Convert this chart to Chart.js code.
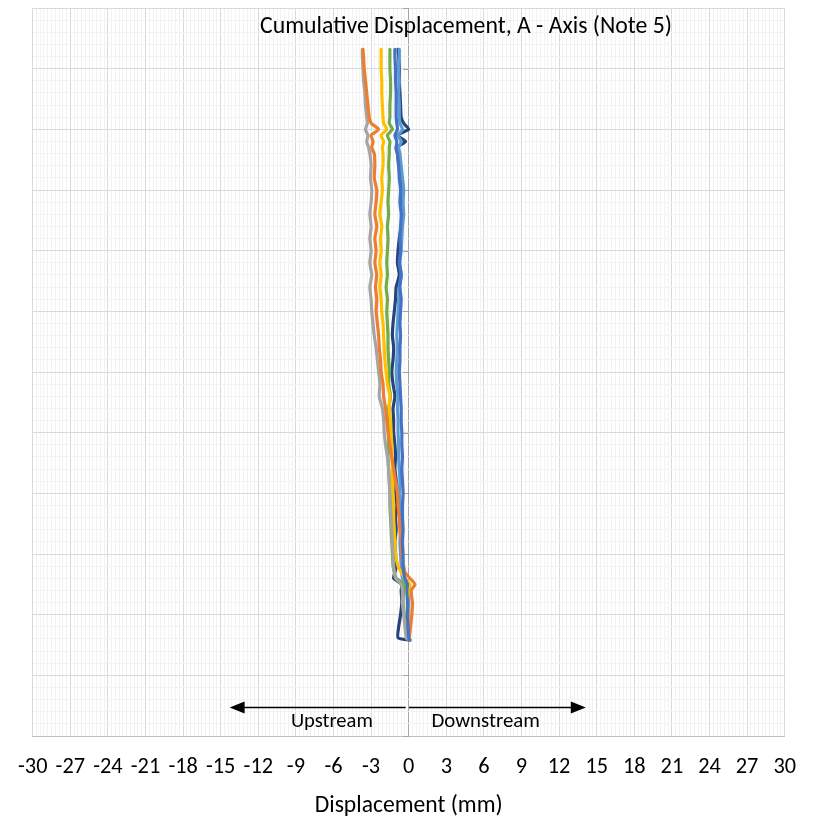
<!DOCTYPE html>
<html>
<head>
<meta charset="utf-8">
<script src="https://cdn.jsdelivr.net/npm/chart.js@4/dist/chart.umd.min.js"></script>
<style>
  html, body { margin: 0; padding: 0; background: #ffffff; }
  canvas { display: block; }
</style>
</head>
<body>
<canvas id="chart" width="814" height="818"></canvas>
<script>
// ---------- data (depth along the casing, top of plot = 0) ----------
const depths = [3.4, 4, 5, 6, 7, 8, 9, 9.5, 10, 10.5, 11, 11.5,
  12, 13, 14, 15, 16, 17, 18, 19, 20, 21,
  22, 23, 24, 25, 26, 27, 28, 29, 30, 31,
  32, 33, 34, 35, 36, 37, 38, 39, 40, 41,
  42, 43, 44, 45, 46,
  46.5, 47, 47.5, 48, 49, 50, 51, 51.9, 52.1];

const seriesBlue = [-1.1, -1.1, -1.05, -1.05, -1.0, -1.0, -1.0, -0.95, -0.9, -1.1, -0.95, -1.0,
  -0.9, -0.8, -0.75, -0.65, -0.7, -0.6, -0.65, -0.7, -0.65, -0.75,
  -0.6, -0.7, -0.6, -0.65, -0.7, -0.65, -0.7, -0.7, -0.75, -0.7,
  -0.65, -0.6, -0.6, -0.55, -0.55, -0.5, -0.55, -0.5, -0.45, -0.5,
  -0.5, -0.45, -0.5, -0.45, -0.45,
  -0.4, -0.3, -0.1, -0.15, -0.1, -0.1, -0.05, 0.0, 0.05];

const seriesOrange = [-3.65, -3.6, -3.55, -3.45, -3.35, -3.25, -3.15, -3.0, -2.4, -3.0, -2.85, -2.95,
  -2.75, -2.7, -2.75, -2.55, -2.6, -2.7, -2.55, -2.7, -2.6, -2.7,
  -2.55, -2.65, -2.55, -2.6, -2.5, -2.4, -2.35, -2.25, -2.2, -2.05,
  -2.0, -1.85, -1.75, -1.65, -1.5, -1.35, -1.2, -1.05, -0.9, -0.85,
  -0.75, -0.7, -0.6, -0.55, -0.4,
  -0.3, 0.1, 0.5, 0.2, 0.3, 0.25, 0.15, 0.05, 0.0];

const seriesGray = [-3.7, -3.7, -3.65, -3.6, -3.5, -3.45, -3.35, -3.3, -3.45, -3.25, -3.35, -3.2,
  -3.1, -3.0, -3.05, -2.95, -3.0, -3.1, -3.0, -3.1, -3.0, -3.1,
  -2.95, -3.1, -3.0, -2.95, -2.85, -2.75, -2.6, -2.5, -2.4, -2.3,
  -2.35, -2.1, -2.0, -1.95, -1.85, -1.7, -1.6, -1.55, -1.5, -1.45,
  -1.4, -1.35, -1.3, -1.25, -1.2,
  -1.15, -1.05, -0.6, -0.5, -0.5, -0.4, -0.3, -0.2, 0.0];

const seriesGold = [-2.2, -2.2, -2.2, -2.15, -2.15, -2.1, -2.05, -2.0, -1.75, -2.2, -2.0, -2.1,
  -2.05, -2.05, -2.15, -2.1, -2.2, -2.3, -2.15, -2.25, -2.2, -2.3,
  -2.2, -2.3, -2.2, -2.15, -2.05, -2.0, -1.95, -1.9, -1.8, -1.7,
  -1.5, -1.55, -1.45, -1.4, -1.35, -1.35, -1.3, -1.3, -1.25, -1.2,
  -1.2, -1.15, -1.1, -1.05, -0.85,
  -0.6, -0.3, 0.1, 0.0, -0.1, -0.05, 0.0, 0.0, 0.05];

const seriesLightBlue = [-0.75, -0.75, -0.8, -0.75, -0.8, -0.75, -0.75, -0.7, -0.5, -0.85, -0.6, -0.8,
  -0.7, -0.6, -0.5, -0.4, -0.45, -0.4, -0.5, -0.55, -0.6, -0.7,
  -0.6, -0.75, -0.8, -0.85, -0.9, -0.95, -0.9, -0.95, -1.0, -0.95,
  -0.85, -0.9, -0.85, -0.85, -0.8, -0.8, -0.75, -0.7, -0.75, -0.7,
  -0.7, -0.65, -0.7, -0.65, -0.6,
  -0.55, -0.5, 0.0, 0.05, 0.0, 0.0, 0.05, 0.05, 0.1];

const seriesGreen = [-1.5, -1.5, -1.5, -1.45, -1.45, -1.5, -1.5, -1.55, -1.3, -1.7, -1.5, -1.55,
  -1.55, -1.6, -1.55, -1.6, -1.65, -1.6, -1.7, -1.65, -1.7, -1.75,
  -1.7, -1.8, -1.7, -1.75, -1.7, -1.65, -1.65, -1.6, -1.55, -1.6,
  -1.45, -1.6, -1.55, -1.6, -1.6, -1.65, -1.6, -1.55, -1.5, -1.5,
  -1.45, -1.4, -1.35, -1.3, -1.25,
  -1.15, -1.0, -0.3, -0.4, -0.45, -0.35, -0.25, -0.1, 0.0];

const seriesNavy = [-0.85, -0.8, -0.75, -0.75, -0.7, -0.65, -0.6, -0.4, 0.0, -0.9, -0.25, -1.0,
  -0.9, -0.8, -0.65, -0.5, -0.6, -0.5, -0.6, -0.75, -0.85, -0.9,
  -0.75, -1.0, -1.05, -1.15, -1.25, -1.3, -1.2, -1.25, -1.35, -1.25,
  -1.1, -1.25, -1.2, -1.2, -1.1, -1.05, -1.1, -1.0, -1.05, -0.95,
  -1.05, -1.0, -1.1, -1.05, -1.0,
  -1.1, -1.2, -0.55, -0.6, -0.55, -0.65, -0.8, -0.85, 0.1];

const xTickLabels = [-30, -27, -24, -21, -18, -15, -12, -9, -6, -3, 0, 3, 6, 9, 12, 15, 18, 21, 24, 27, 30];

// ---------- styling ----------
const FONT = 'Carlito, Lato, sans-serif';
function fitSize(text, target) {
  const c = document.createElement('canvas').getContext('2d');
  c.font = '100px ' + FONT;
  return +(100 * target / c.measureText(text).width).toFixed(2);
}
const titleText = 'Cumulative Displacement, A - Axis (Note 5)';
const titleSize = fitSize(titleText, 412);
const tickSize = fitSize('12', 22.6);
const axisTitleSize = fitSize('Displacement (mm)', 188);
const upSize = fitSize('Upstream', 82);
const downSize = fitSize('Downstream', 108.5);

const seriesDefs = [
  { label: 'Reading 1', values: seriesBlue, color: '#4472C4' },
  { label: 'Reading 2', values: seriesOrange, color: '#ED7D31' },
  { label: 'Reading 3', values: seriesGray, color: '#A5A5A5' },
  { label: 'Reading 4', values: seriesGold, color: '#FFC000' },
  { label: 'Reading 5', values: seriesLightBlue, color: '#5B9BD5' },
  { label: 'Reading 6', values: seriesGreen, color: '#70AD47' },
  { label: 'Reading 7', values: seriesNavy, color: '#264478' }
];

const datasets = seriesDefs.map(s => ({
  label: s.label,
  data: depths.map((d, i) => ({ x: s.values[i], y: d })),
  showLine: true,
  borderColor: s.color,
  backgroundColor: s.color,
  borderWidth: 3.2,
  borderJoinStyle: 'round',
  borderCapStyle: 'round',
  pointRadius: 0,
  tension: 0.2
}));

const overlay = {
  id: 'overlay',
  beforeDatasetsDraw(chart) {
    const { ctx, scales: { x, y } } = chart;
    const px = Math.round(x.getPixelForValue(0));
    ctx.save();
    ctx.strokeStyle = '#A6A6A6';
    ctx.lineWidth = 1;
    for (let d = 0; d <= 60; d += 5) {
      const py = Math.round(y.getPixelForValue(d)) + 0.5;
      ctx.beginPath();
      ctx.moveTo(px - 6, py);
      ctx.lineTo(px, py);
      ctx.stroke();
    }
    ctx.restore();
  },
  afterDraw(chart) {
    const { ctx, scales: { x, y } } = chart;
    ctx.save();
    // chart title
    ctx.fillStyle = '#000';
    ctx.font = titleSize + 'px ' + FONT;
    ctx.textAlign = 'center';
    ctx.textBaseline = 'alphabetic';
    ctx.fillText(titleText, 466, 32.6);

    // direction arrows
    const ay = y.getPixelForValue(57.65);
    const drawArrow = (fromV, toV) => {
      const x0 = x.getPixelForValue(fromV), x1 = x.getPixelForValue(toV);
      const dir = Math.sign(x1 - x0);
      ctx.strokeStyle = '#000';
      ctx.lineWidth = 1.3;
      ctx.beginPath();
      ctx.moveTo(x0, ay);
      ctx.lineTo(x1 - dir * 12, ay);
      ctx.stroke();
      ctx.fillStyle = '#000';
      ctx.beginPath();
      ctx.moveTo(x1, ay);
      ctx.lineTo(x1 - dir * 15, ay - 6);
      ctx.lineTo(x1 - dir * 15, ay + 6);
      ctx.closePath();
      ctx.fill();
    };
    drawArrow(-0.24, -14.29);
    drawArrow(0.02, 14.13);

    ctx.fillStyle = '#000';
    ctx.textAlign = 'center';
    ctx.textBaseline = 'alphabetic';
    ctx.font = upSize + 'px ' + FONT;
    ctx.fillText('Upstream', x.getPixelForValue(-6.13), y.getPixelForValue(59.24));
    ctx.font = downSize + 'px ' + FONT;
    ctx.fillText('Downstream', x.getPixelForValue(6.14), y.getPixelForValue(59.26));
    ctx.restore();
  }
};

new Chart(document.getElementById('chart'), {
  type: 'scatter',
  data: { datasets },
  plugins: [overlay],
  options: {
    responsive: false,
    devicePixelRatio: 1,
    animation: false,
    events: [],
    layout: { padding: { left: 0, right: 26, top: 8, bottom: 0 } },
    plugins: {
      legend: { display: false },
      tooltip: { enabled: false },
      title: { display: false }
    },
    scales: {
      x: {
        type: 'linear',
        min: -30,
        max: 30,
        afterBuildTicks(scale) {
          const t = [];
          for (let i = -100; i <= 100; i++) t.push({ value: Math.round(i * 3) / 10 });
          scale.ticks = t;
        },
        afterFit(scale) { scale.height = 82; },
        grid: {
          drawTicks: false,
          lineWidth: 1,
          color(ctx) {
            const k = Math.round((ctx.tick ? ctx.tick.value : 0) * 10);
            if (k === 0) return '#A6A6A6';
            return (k % 30 === 0) ? '#D9D9D9' : '#F2F2F2';
          }
        },
        border: { display: true, color: '#BFBFBF', width: 1 },
        ticks: {
          autoSkip: false,
          maxRotation: 0,
          minRotation: 0,
          padding: 18,
          color: '#000',
          font: { family: FONT, size: tickSize },
          callback(v) {
            const k = Math.round(v * 10);
            if (k % 30 !== 0) return '';
            const val = k / 10;
            return xTickLabels.includes(val) ? String(val) : '';
          }
        },
        title: {
          display: true,
          text: 'Displacement (mm)',
          color: '#000',
          font: { family: FONT, size: axisTitleSize },
          padding: { top: 0, bottom: -2 }
        }
      },
      y: {
        type: 'linear',
        min: 0,
        max: 60,
        reverse: true,
        afterBuildTicks(scale) {
          const t = [];
          for (let i = 0; i <= 60; i++) t.push({ value: i });
          scale.ticks = t;
        },
        afterFit(scale) { scale.width = 32; },
        grid: {
          drawTicks: false,
          lineWidth: 1,
          color(ctx) {
            const v = ctx.tick ? ctx.tick.value : 0;
            return (v % 5 === 0) ? '#D9D9D9' : '#F2F2F2';
          }
        },
        border: { display: false },
        ticks: { display: false }
      }
    }
  }
});
</script>
</body>
</html>
